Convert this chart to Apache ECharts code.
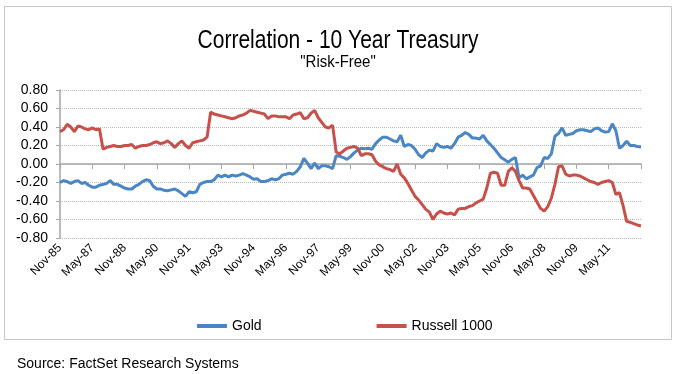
<!DOCTYPE html>
<html><head><meta charset="utf-8">
<script src="https://cdn.jsdelivr.net/npm/echarts@6/dist/echarts.min.js"></script>
<style>html,body{margin:0;padding:0;background:#fff}#c{width:675px;height:374px}</style>
</head><body><div id="c"></div>
<script>
// Bimonthly categories starting Nov-85, ending Nov-12
const monthNames = ['Jan','Feb','Mar','Apr','May','Jun','Jul','Aug','Sep','Oct','Nov','Dec'];
const categories = [];
for (let i = 0; i < 163; i++) {
  const m = 10 + 2 * i;
  const y = (1985 + Math.floor(m / 12)) % 100;
  categories.push(monthNames[m % 12] + '-' + String(y).padStart(2, '0'));
}
const tickLabels = ['Nov-85','May-87','Nov-88','May-90','Nov-91','May-93','Nov-94','May-96','Nov-97','May-99','Nov-00','May-02','Nov-03','May-05','Nov-06','May-08','Nov-09','May-11'];
const yTicks = [-0.8,-0.6,-0.4,-0.2,0,0.2,0.4,0.6,0.8];

const gold = [
-0.20,-0.18,-0.19,-0.21,-0.19,-0.18,-0.21,-0.20,-0.23,-0.25,-0.25,-0.23,-0.22,-0.21,-0.18,-0.22,-0.22,-0.24,-0.26,-0.27,-0.27,-0.24,-0.22,-0.19,-0.17,-0.18,-0.24,-0.27,
-0.27,-0.285,-0.29,-0.28,-0.27,-0.29,-0.32,-0.35,-0.30,-0.31,-0.30,-0.22,-0.20,-0.19,-0.19,-0.17,-0.12,-0.14,-0.12,-0.14,-0.12,-0.13,-0.12,-0.105,-0.12,-0.14,-0.165,-0.16,
-0.19,-0.19,-0.18,-0.16,-0.17,-0.16,-0.12,-0.11,-0.10,-0.11,-0.08,-0.03,0.06,0.01,-0.05,0.01,-0.05,-0.02,-0.02,-0.03,-0.05,0.09,0.085,0.07,0.05,0.08,0.12,0.15,
0.17,0.165,0.17,0.16,0.22,0.26,0.29,0.29,0.27,0.25,0.24,0.31,0.19,0.21,0.20,0.16,0.10,0.07,0.12,0.15,0.14,0.22,0.19,0.18,0.19,0.17,0.22,0.29,
0.31,0.34,0.32,0.28,0.28,0.27,0.31,0.25,0.21,0.17,0.12,0.07,0.045,0.02,0.05,0.07,-0.15,-0.12,-0.16,-0.14,-0.12,-0.04,-0.02,0.07,0.06,0.11,0.30,0.33,
0.39,0.31,0.32,0.33,0.36,0.37,0.37,0.36,0.35,0.38,0.39,0.36,0.345,0.35,0.435,0.36,0.17,0.20,0.245,0.20,0.20,0.19,0.185
];
const russell = [
0.35,0.37,0.43,0.40,0.35,0.41,0.40,0.38,0.37,0.39,0.37,0.38,0.16,0.18,0.19,0.20,0.19,0.19,0.20,0.20,0.21,0.17,0.19,0.20,0.20,0.21,0.23,0.24,
0.22,0.23,0.25,0.22,0.18,0.22,0.25,0.20,0.17,0.23,0.24,0.25,0.26,0.29,0.56,0.54,0.53,0.52,0.51,0.50,0.49,0.50,0.52,0.53,0.55,0.58,0.57,0.56,
0.55,0.54,0.49,0.52,0.52,0.51,0.51,0.51,0.49,0.53,0.54,0.555,0.49,0.50,0.55,0.58,0.50,0.45,0.40,0.39,0.42,0.13,0.11,0.14,0.17,0.18,0.19,0.17,
0.09,0.11,0.11,0.10,0.03,-0.01,-0.03,-0.05,-0.06,-0.08,0.00,-0.11,-0.15,-0.21,-0.28,-0.35,-0.39,-0.44,-0.49,-0.52,-0.60,-0.54,-0.51,-0.53,-0.54,-0.53,-0.55,-0.49,
-0.48,-0.48,-0.46,-0.45,-0.42,-0.40,-0.38,-0.26,-0.10,-0.09,-0.10,-0.23,-0.23,-0.08,-0.04,-0.08,-0.18,-0.26,-0.26,-0.27,-0.34,-0.41,-0.48,-0.51,-0.46,-0.37,-0.22,-0.03,
-0.02,-0.11,-0.13,-0.12,-0.12,-0.13,-0.15,-0.17,-0.19,-0.20,-0.22,-0.20,-0.19,-0.18,-0.20,-0.33,-0.31,-0.45,-0.62,-0.63,-0.645,-0.66,-0.67
];

const REG = '"Liberation Sans", Arial, sans-serif';
const BLUE = '#4A86C6';
const RED = '#C8504B';

const chart = echarts.init(document.getElementById('c'), null, {renderer: 'canvas'});
chart.setOption({
  animation: false,
  backgroundColor: '#fff',
  graphic: [
    {type: 'rect', shape: {x: 4.5, y: 6.5, width: 667, height: 333},
     style: {fill: 'none', stroke: '#c6c6c6', lineWidth: 1}, silent: true},
    {type: 'text', x: 338, y: 41, scaleX: 0.84,
     style: {text: 'Correlation - 10 Year Treasury', align: 'center', verticalAlign: 'middle',
             font: '25px "Liberation Sans", Arial, sans-serif', fill: '#000'}},
    {type: 'text', x: 338, y: 62, scaleX: 0.88,
     style: {text: '"Risk-Free"', align: 'center', verticalAlign: 'middle',
             font: '17px "Liberation Sans", Arial, sans-serif', fill: '#000'}},
    {type: 'text', left: 17, top: 357,
     style: {text: 'Source: FactSet Research Systems', font: '14px "Liberation Sans", Arial, sans-serif', fill: '#000'}}
  ],
  legend: {
    data: ['Gold', 'Russell 1000'], left: 192, top: 314,
    icon: 'rect', itemWidth: 30, itemHeight: 4, itemGap: 115,
    textStyle: {fontFamily: REG, fontSize: 14, color: '#000'}
  },
  grid: {left: 60, right: 34, top: 90, bottom: 136, containLabel: false},
  xAxis: [
    {type: 'category', data: categories, boundaryGap: false,
     axisLine: {onZero: true, lineStyle: {color: '#a6a6a6', width: 1.5}},
     axisTick: {show: true, interval: 8, length: 5, lineStyle: {color: '#a6a6a6', width: 1}},
     axisLabel: {show: false}, splitLine: {show: false}},
    {type: 'category', data: categories, boundaryGap: false, position: 'bottom',
     axisLine: {show: false, onZero: false}, axisTick: {show: false}, splitLine: {show: false},
     axisLabel: {interval: function (i, v) { return tickLabels.indexOf(v) >= 0; },
       rotate: 45, fontFamily: REG, fontSize: 12, color: '#000', margin: 8}}
  ],
  yAxis: {
    type: 'value', min: yTicks[0], max: yTicks[yTicks.length - 1], interval: 0.2,
    axisLine: {show: true, lineStyle: {color: '#a6a6a6', width: 1.5}},
    axisTick: {show: true, length: 4, lineStyle: {color: '#a6a6a6'}},
    axisLabel: {formatter: function (v) { return v.toFixed(2); }, fontFamily: REG, fontSize: 14, color: '#000', margin: 12},
    splitLine: {show: true, lineStyle: {type: [1, 1], color: '#b8b8b8', width: 1}}
  },
  series: [
    {name: 'Gold', type: 'line', data: gold, xAxisIndex: 0, showSymbol: false, symbol: 'none',
     lineStyle: {width: 3, color: BLUE}, itemStyle: {color: BLUE}},
    {name: 'Russell 1000', type: 'line', data: russell, xAxisIndex: 0, showSymbol: false, symbol: 'none',
     lineStyle: {width: 3, color: RED}, itemStyle: {color: RED}}
  ]
});
</script>
</body></html>
